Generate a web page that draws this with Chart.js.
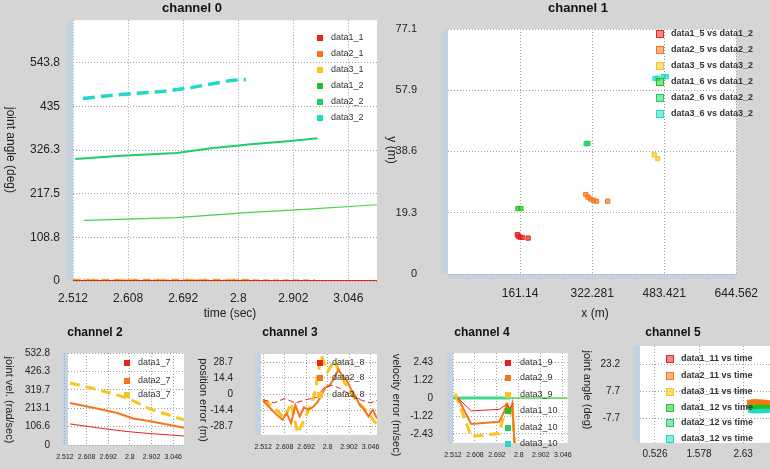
<!DOCTYPE html>
<html><head><meta charset="utf-8">
<script src="https://cdn.jsdelivr.net/npm/chart.js@4"></script>
<style>
body{margin:0;background:#d5d5d5;width:770px;height:469px;overflow:hidden;position:relative;font-family:"Liberation Sans",Arial,sans-serif}
canvas{position:absolute}
</style></head><body>
<script>
// ---- data ----
const timeLabels=['2.512','2.608','2.692','2.8','2.902','3.046'];
// channel 0 (x in time-tick units)
const c0_d1_1_x=[0,5.52], c0_d1_1_y=[0,0];
const c0_d2_1_x=[0,4.4], c0_d2_1_y=[1,1];
const c0_d3_1_x=[0,3.2], c0_d3_1_y=[3,3];
const c0_d1_2_x=[0.2,1.88,3.23,4.13,5.52], c0_d1_2_y=[151,158,171,178,190];
const c0_d2_2_x=[0.04,0.88,1.88,2.51,3.23,3.95,4.44], c0_d2_2_y=[304,312,319,331,341,349,356];
const c0_d3_2_x=[0.18,0.88,1.61,2.15,2.87,3.14], c0_d3_2_y=[455,465,472,482,500,502];
const c0_yTicks=[0,108.8,217.5,326.3,435,543.8];
// channel 1
const c1_d1_x=[155,157,161,166,179], c1_d1_y=[12.4,11.9,11.6,11.5,11.3];
const c1_d2_x=[308,313,319,325,332,357], c1_d2_y=[25.0,24.2,23.6,23.2,22.9,22.9];
const c1_d3_x=[461,469], c1_d3_y=[37.5,36.3];
const c1_d4_x=[156,163], c1_d4_y=[20.6,20.6];
const c1_d5_x=[309,313], c1_d5_y=[41.0,41.1];
const c1_d6_x=[463,468,481,488], c1_d6_y=[61.5,61.6,62.1,62.1];
const c1_xTicks=[161.14,322.281,483.421,644.562], c1_yTicks=[0,19.3,38.6,57.9,77.1];
// channel 2
const c2_d1_x=[0.23,1.48,2.87,3.94,5.5], c2_d1_y=[122,100,78,66,52];
const c2_d2_x=[0.23,1.48,2.41,3.15,3.94,5.5], c2_d2_y=[243,211,185,154,137,100];
const c2_d3_x=[0.23,1.6,2.87,3.94,5.5], c2_d3_y=[359,318,273,208,146];
const c2_yTicks=[0,106.6,213.1,319.7,426.3,532.8];
// channel 3
const c3_d1_x=[0,0.5,1.0,1.5,2.0,2.5,2.8,3.2,3.6,4.0,4.5,5.0,5.5], c3_d1_y=[-5,-8,-4,-8,-5,-3,5,8,5,0,-5,-8,-4];
const c3_d2_x=[0,0.3,0.6,0.9,1.1,1.3,1.5,1.7,1.9,2.1,2.3,2.5,2.7,2.9,3.1,3.3,3.5,3.7,3.9,4.1,4.3,4.5,4.7,4.9,5.1,5.3,5.5];
const c3_d2_y=[-6,-12,-18,-23,-17,-26,-10,-20,-12,-14,-12,-8,-2,6,8,14,22,16,12,4,-2,-10,-14,-20,-14,-22,-17];
const c3_d3_x=[0,0.5,1.0,1.3,1.6,2.0,2.4,2.7,3.0,3.3,3.8,4.3,4.8,5.2,5.5], c3_d3_y=[-5,-12,-22,-8,-35,-20,0,35,20,30,10,-5,-15,-25,-30];
const c3_yTicks=[-28.7,-14.4,0,14.4,28.7];
// channel 4
const c4_d1_x=[0.22,0.83,2.1,2.47,2.58,2.77], c4_d1_y=[0,-0.87,-0.77,-0.4,-0.72,-0.35];
const c4_d2_x=[0.22,0.83,2.1,2.47,2.6,2.7,2.8], c4_d2_y=[0,-1.75,-1.6,-0.5,-1.0,-0.4,-3.1];
const c4_d3_x=[0.1,0.83,2.1,2.47,2.7,2.8], c4_d3_y=[0.3,-2.6,-2.4,-0.3,-0.5,-3.1];
const c4_d4_x=[0,5.22], c4_d4_y=[0,0];
const c4_d6_x=[0,2.6], c4_d6_y=[0,0];
const c4_yTicks=[-2.43,-1.22,0,1.22,2.43];
// channel 5
const c5_d3_x=[2.72,2.9,3.1,3.27], c5_d3_y=[1.2,1.8,1.5,1.0];
const c5_d4_x=[2.72,2.9,3.1,3.27], c5_d4_y=[-1,-1.2,-1,-1];
const c5_d6_x=[2.75,2.9,3.1,3.27], c5_d6_y=[-3,-3.4,-3.2,-3];
const c5_xTicks=[0.526,1.578,2.63], c5_yTicks=[-7.7,7.7,23.2];

const RED='#e8231c',ORA='#f5761a',YEL='#f9c51c',GR1='#22c222',GR2='#22cc66',CYA='#22d8c8';
const pts=(xs,ys)=>xs.map((x,i)=>({x,y:ys[i]}));

const deco={id:'deco',
 beforeDraw(c){const o=c.options.plugins.deco,a=c.chartArea,ctx=c.ctx;
  ctx.save();ctx.fillStyle='#fff';ctx.fillRect(a.left,a.top,a.right-a.left,a.bottom-a.top);
  ctx.fillStyle='#c3d2e3';
  ctx.fillRect(a.left-6,a.top,6,a.bottom-a.top);
  if(o.bstrip){ctx.fillRect(a.left,a.bottom,a.right-a.left,5);}
  ctx.restore();},
 afterDraw(c){const o=c.options.plugins.deco,ctx=c.ctx,ox=o.ox,oy=o.oy;
  ctx.save();ctx.fillStyle='#111';ctx.textBaseline='middle';
  ctx.font='bold '+o.tf+'px "Liberation Sans",Arial';ctx.textAlign='center';
  ctx.fillText(o.title,o.tx-ox,o.ty-oy);
  ctx.font=o.af+'px "Liberation Sans",Arial';ctx.fillStyle='#222';
  if(o.xt){ctx.fillText(o.xt,o.xtx-ox,o.xty-oy);}
  ctx.save();ctx.translate(o.ytx-ox,o.yty-oy);ctx.rotate(Math.PI/2);ctx.fillText(o.yt,0,0);ctx.restore();
  ctx.textAlign='left';ctx.font=(o.lb?'bold ':'')+o.lf+'px "Liberation Sans",Arial';
  o.legend.forEach(l=>{
   if(o.lbox){ctx.fillStyle=l.c+'88';ctx.fillRect(l.mx-ox-3.5,l.y-oy-3.5,7,7);ctx.strokeStyle=l.c;ctx.lineWidth=1;ctx.strokeRect(l.mx-ox-3.5,l.y-oy-3.5,7,7);}
   else{ctx.fillStyle=l.c;ctx.fillRect(l.mx-ox-3,l.y-oy-3,6,6);}
   ctx.fillStyle='#333';ctx.fillText(l.t,l.tx-ox,l.y-oy);});
  ctx.restore();}};
Chart.register(deco);

function make(box,area,xs,ys,datasets,d){
 const cv=document.createElement('canvas');
 cv.style.left=box[0]+'px';cv.style.top=box[1]+'px';cv.style.width=box[2]+'px';cv.style.height=box[3]+'px';
 cv.width=box[2];cv.height=box[3];document.body.appendChild(cv);
 d.ox=box[0];d.oy=box[1];
 const L=area[0]-box[0],T=area[1]-box[1],R=box[0]+box[2]-area[2],B=box[1]+box[3]-area[3];
 const grid={color:'#a0a0a0',lineWidth:1,tickLength:0,drawTicks:false};
 new Chart(cv,{type:'scatter',data:{datasets},
  options:{responsive:false,animation:false,devicePixelRatio:1,
   layout:{padding:{left:0,top:T,right:R,bottom:0}},
   plugins:{legend:{display:false},tooltip:{enabled:false},deco:d},
   scales:{
    x:{type:'linear',min:xs.min,max:xs.max,border:{display:false,dash:[1,2]},grid:Object.assign({},grid),
     afterFit(s){s.height=B;},
     afterBuildTicks(s){s.ticks=xs.ticks.map(v=>({value:v}));},
     ticks:{autoSkip:false,maxRotation:0,padding:xs.pad,color:'#222',font:{size:xs.fs,family:'"Liberation Sans",Arial'},
       callback:(v)=>xs.labels?xs.labels[xs.ticks.indexOf(v)]:String(v)}},
    y:{type:'linear',min:ys.min,max:ys.max,border:{display:false,dash:[1,2]},grid:Object.assign({},grid),
     afterFit(s){s.width=L;},
     afterBuildTicks(s){s.ticks=ys.ticks.map(v=>({value:v}));},
     ticks:{autoSkip:false,padding:ys.pad,color:'#222',font:{size:ys.fs,family:'"Liberation Sans",Arial'},callback:v=>String(v)}}
   }}});
}
function ln(xs,ys,c,w,dash){return {data:pts(xs,ys),showLine:true,borderColor:c,borderWidth:w,borderDash:dash||[],pointRadius:0,fill:false};}
function sc(xs,ys,c){return {data:pts(xs,ys),showLine:false,pointStyle:'rect',pointRadius:3,backgroundColor:c+'aa',borderColor:c,borderWidth:1};}
const tIdx=[0,1,2,3,4,5];
const leg=(names,cols,mx,tx,ysArr)=>names.map((t,i)=>({t,c:cols[i],mx,tx,y:ysArr[i]}));

// channel 0
make([0,0,385,320],[73,20,377,281],{min:0,max:5.52,ticks:tIdx,labels:timeLabels,fs:12,pad:10},{min:0,max:650,ticks:c0_yTicks,fs:12,pad:13},
 [ln(c0_d1_1_x,c0_d1_1_y,RED,2),ln(c0_d2_1_x,c0_d2_1_y,ORA,2,[6,4]),ln(c0_d3_1_x,c0_d3_1_y,YEL,2,[8,6]),
  ln(c0_d1_2_x,c0_d1_2_y,'#4ccf4c',1.2),ln(c0_d2_2_x,c0_d2_2_y,GR2,2),ln(c0_d3_2_x,c0_d3_2_y,CYA,3.5,[12,6])],
 {title:'channel 0',tx:192,ty:8,tf:13,af:12,xt:'time (sec)',xtx:230,xty:314,yt:'joint angle (deg)',ytx:10,yty:150,lf:9,
  legend:leg(['data1_1','data2_1','data3_1','data1_2','data2_2','data3_2'],[RED,ORA,YEL,GR1,GR2,CYA],320,331,[38,54,70,86,102,118])});
// channel 1
make([385,-9,385,329],[448,29,742,274],{min:0,max:644.562,ticks:c1_xTicks,fs:12,pad:12},{min:0,max:77.1,ticks:c1_yTicks,fs:11,pad:31},
 [sc(c1_d1_x,c1_d1_y,RED),sc(c1_d2_x,c1_d2_y,ORA),sc(c1_d3_x,c1_d3_y,YEL),sc(c1_d4_x,c1_d4_y,GR1),sc(c1_d5_x,c1_d5_y,GR2),sc(c1_d6_x,c1_d6_y,CYA)],
 {title:'channel 1',tx:578,ty:8,tf:13,af:12,xt:'x (m)',xtx:595,xty:314,yt:'y (m)',ytx:391,yty:150,lf:9,lb:true,lbox:true,bstrip:true,
  legend:leg(['data1_5 vs data1_2','data2_5 vs data2_2','data3_5 vs data3_2','data1_6 vs data1_2','data2_6 vs data2_2','data3_6 vs data3_2'],[RED,ORA,YEL,GR1,GR2,CYA],660,671,[34,50,66,82,98,114])});
// channel 2
make([0,320,195,149],[68,353,184,453],{min:0.14,max:5.5,ticks:tIdx,labels:timeLabels,fs:7,pad:8},{min:0,max:532.8,ticks:c2_yTicks,fs:10,pad:18},
 [ln(c2_d1_x,c2_d1_y,RED,1),ln(c2_d2_x,c2_d2_y,ORA,2),ln(c2_d3_x,c2_d3_y,YEL,3,[10,6])],
 {title:'channel 2',tx:95,ty:333,tf:12,af:11,yt:'joint vel. (rad/sec)',ytx:9,yty:400,lf:9,
  legend:leg(['data1_7','data2_7','data3_7'],[RED,ORA,YEL],127,138,[363,381,395])});
// channel 3
make([195,320,195,149],[261,353,377,453],{min:-0.1,max:5.3,ticks:tIdx,labels:timeLabels,fs:7,pad:8},{min:-36.7,max:35.9,ticks:c3_yTicks,fs:10,pad:28},
 [ln(c3_d1_x,c3_d1_y,RED,1,[6,3]),ln(c3_d2_x,c3_d2_y,ORA,2),ln(c3_d3_x,c3_d3_y,YEL,3,[10,6])],
 {title:'channel 3',tx:290,ty:333,tf:12,af:11,yt:'position error (m)',ytx:203,yty:400,lf:9,
  legend:leg(['data1_8','data2_8','data3_8'],[RED,ORA,YEL],320,332,[363,378,395])});
// channel 4
make([390,320,190,149],[453,353,570,453],{min:0,max:5.22,ticks:tIdx,labels:timeLabels,fs:7,pad:8},{min:-3.04,max:3.04,ticks:c4_yTicks,fs:10,pad:20},
 [ln(c4_d1_x,c4_d1_y,RED,1),ln(c4_d2_x,c4_d2_y,ORA,2),ln(c4_d3_x,c4_d3_y,YEL,3,[10,6]),ln(c4_d4_x,c4_d4_y,'#55dd55',1.5),ln(c4_d6_x,c4_d6_y,CYA,3)],
 {title:'channel 4',tx:482,ty:333,tf:12,af:11,yt:'velocity error (m/sec)',ytx:396,yty:405,lf:9,
  legend:leg(['data1_9','data2_9','data3_9','data1_10','data2_10','data3_10'],[RED,ORA,YEL,GR1,GR2,CYA],508,520,[363,378,395,411,428,444])});
// channel 5
make([580,320,190,149],[640,345,770,453],{min:0.17,max:3.27,ticks:c5_xTicks,fs:10,pad:5},{min:-22,max:33.5,ticks:c5_yTicks,fs:10,pad:20},
 [ln(c5_d3_x,c5_d3_y,ORA,5),ln(c5_d4_x,c5_d4_y,GR1,5),ln(c5_d6_x,c5_d6_y,CYA,6)],
 {title:'channel 5',tx:673,ty:333,tf:12,af:11,yt:'joint angle (deg)',ytx:587,yty:390,lf:9,lb:true,lbox:true,
  legend:leg(['data1_11 vs time','data2_11 vs time','data3_11 vs time','data1_12 vs time','data2_12 vs time','data3_12 vs time'],[RED,ORA,YEL,GR1,GR2,CYA],670,681,[359,376,392,408,423,439])});
</script></body></html>
